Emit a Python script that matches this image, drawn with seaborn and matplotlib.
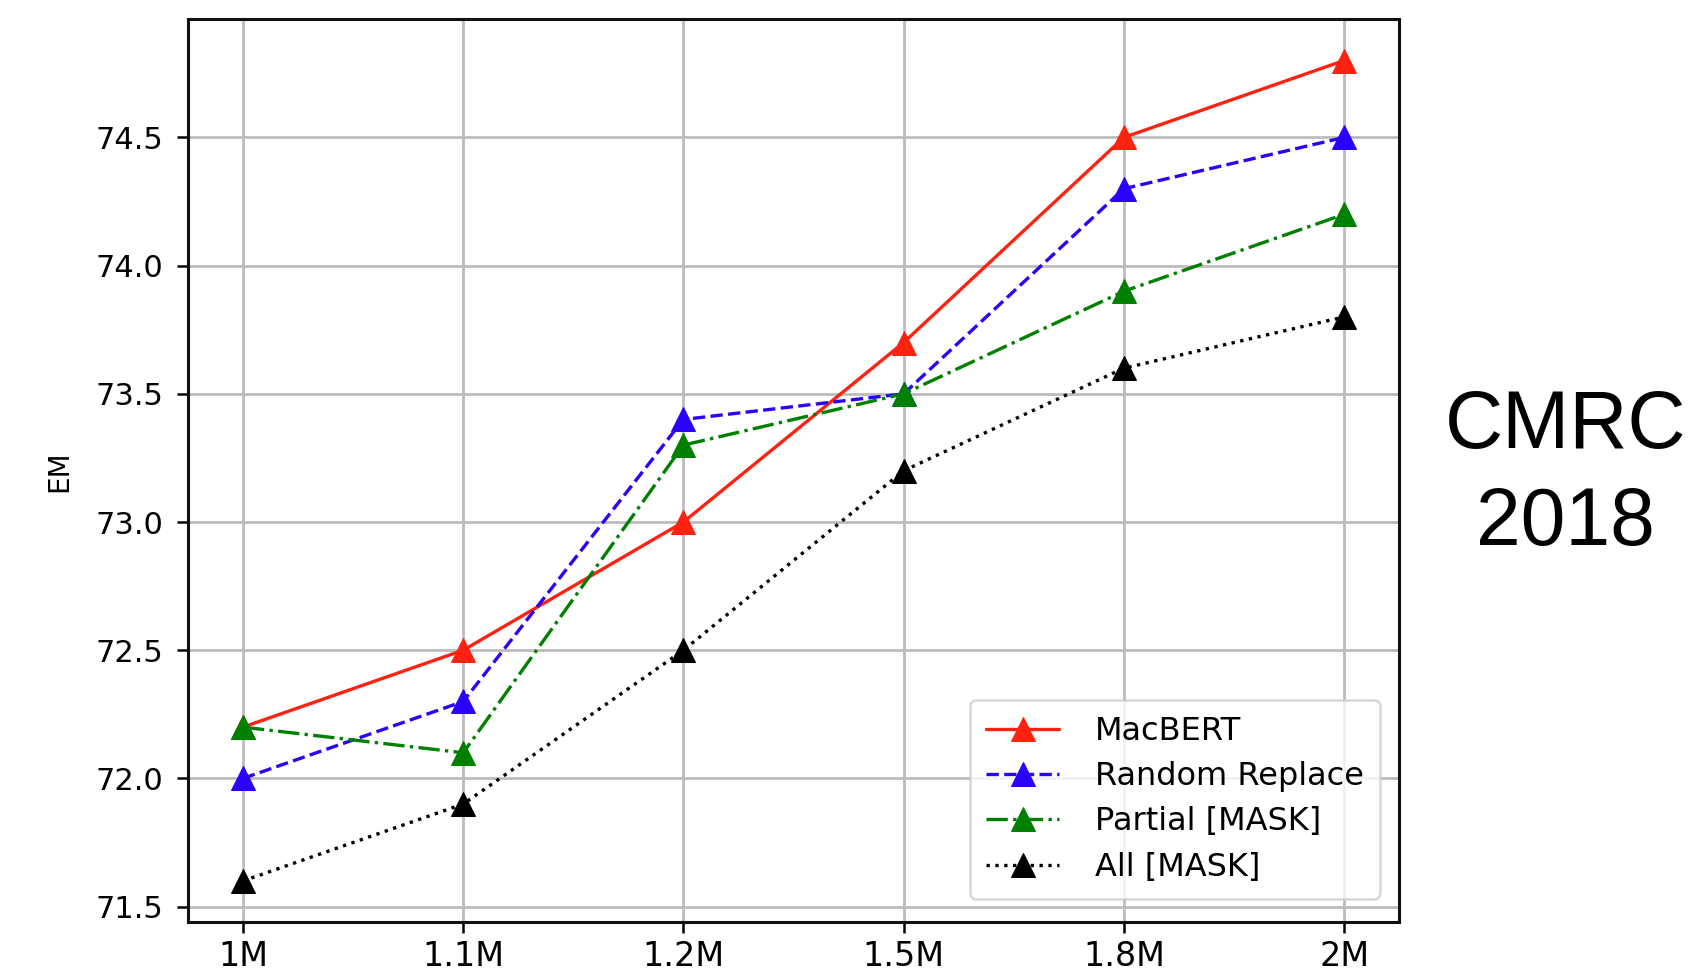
import matplotlib
matplotlib.use("Agg")
import matplotlib.pyplot as plt
import seaborn as sns
import pandas as pd

steps = ["1M", "1.1M", "1.2M", "1.5M", "1.8M", "2M"]
macbert = [72.2, 72.5, 73.0, 73.7, 74.5, 74.8]
random_replace = [72.0, 72.3, 73.4, 73.5, 74.3, 74.5]
partial_mask = [72.2, 72.1, 73.3, 73.5, 73.9, 74.2]
all_mask = [71.6, 71.9, 72.5, 73.2, 73.6, 73.8]
series_names = ["MacBERT", "Random Replace", "Partial [MASK]", "All [MASK]"]
y_ticks = [71.5, 72.0, 72.5, 73.0, 73.5, 74.0, 74.5]

sns.set_style("ticks")
plt.rcParams['font.family'] = ['DejaVu Sans']
plt.rcParams['text.color'] = 'black'
plt.rcParams['xtick.color'] = 'black'
plt.rcParams['ytick.color'] = 'black'
plt.rcParams['axes.labelcolor'] = 'black'

fig = plt.figure(figsize=(16.96, 9.74), dpi=100)
ax = fig.add_axes([0.1108, 0.0534, 0.825 - 0.1108, 0.98 - 0.0534])

styles = [
    (macbert, "#ff2210", "-"),
    (random_replace, "#2a00ff", "--"),
    (partial_mask, "#008000", "-."),
    (all_mask, "#000000", ":"),
]
xpos = list(range(len(steps)))
for (vals, color, ls), name in zip(styles, series_names):
    df = pd.DataFrame({"x": xpos, "y": vals})
    sns.lineplot(data=df, x="x", y="y", ax=ax, color=color, linestyle=ls,
                 marker="^", markersize=17, markeredgecolor=color,
                 linewidth=2.4, label=name)

ax.set_xticks(xpos)
ax.set_xticklabels(steps)
ax.set_yticks(y_ticks)
ax.set_yticklabels([f"{v:.1f}" for v in y_ticks])
ax.margins(x=0.05, y=0.05)
ax.set_xlabel("")
ax.set_ylabel("EM", fontsize=20, labelpad=16)
ax.tick_params(axis="y", labelsize=22, length=8, width=1.8, pad=10)
ax.tick_params(axis="x", labelsize=24, length=8, width=1.8, pad=5)
ax.grid(True, color="#bcbcbc", linewidth=2)
ax.set_axisbelow(True)
for s in ax.spines.values():
    s.set_linewidth(2.2)
    s.set_color("#111111")

leg = ax.legend(loc="lower right", fontsize=23, frameon=True, handlelength=2.3,
                borderpad=0.5, labelspacing=0.45, handletextpad=1.1, fancybox=True,
                bbox_to_anchor=(0.997, 0.008))
leg.get_frame().set_edgecolor("#cccccc")
leg.get_frame().set_linewidth(1.8)

fig.text(0.923, 0.512, "CMRC\n2018", ha="center", va="center", fontsize=58,
         family="Liberation Sans", linespacing=1.35, color="black")

fig.savefig("out.png", dpi=100)
